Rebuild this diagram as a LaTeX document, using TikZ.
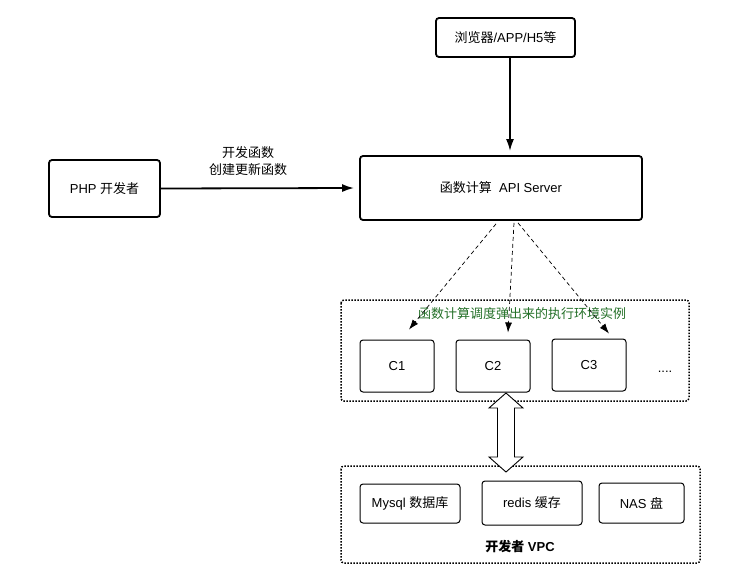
\documentclass[tikz,border=0pt]{standalone}
\usepackage{fontspec}
\setmainfont{Liberation Sans}
\newfontfamily\cjk{Noto Sans CJK SC}
\usetikzlibrary{arrows.meta,calc}
\definecolor{lblgreen}{RGB}{36,112,40}
\tikzset{
  box/.style={draw=black, rounded corners=3pt, line width=1pt, fill=white, font=\fontsize{13}{15.5}\selectfont, inner sep=0pt},
  bigbox/.style={box, line width=1.8pt},
  container/.style={draw=black, rounded corners=3pt, line width=1.5pt, dash pattern=on 1.5pt off 1.5pt},
  conn/.style={line width=1.8pt, -{Latex[length=12pt,width=8pt]}},
  dconn/.style={line width=0.7pt, dash pattern=on 4pt off 3pt, -{Latex[length=10pt,width=7pt]}},
  txt/.style={font=\fontsize{13}{15.5}\selectfont, inner sep=0pt}
}
\begin{document}
\begin{tikzpicture}[x=1pt,y=-1pt]
\useasboundingbox (0,0) rectangle (753,582);
% containers
\draw[container] (341,300) rectangle (689,401);
\draw[container] (341,466) rectangle (700,563);
% main boxes
\node[bigbox, minimum width=139pt, minimum height=39pt] (browser) at (505.5,37.5) {{\cjk 浏览器}/APP/H5{\cjk 等}};
\node[bigbox, minimum width=282pt, minimum height=64pt] (api) at (501,188) {{\cjk 函数计算}\ \ API Server};
\node[bigbox, minimum width=111pt, minimum height=57pt] (php) at (104.5,188.5) {PHP {\cjk 开发者}};
% C boxes
\node[box, minimum width=74pt, minimum height=52pt] (c1) at (397,366) {C1};
\node[box, minimum width=74pt, minimum height=52pt] (c2) at (493,366) {C2};
\node[box, minimum width=74pt, minimum height=52pt] (c3) at (589,365) {C3};
\node[txt] (dots) at (665,372) {....};
\node[txt, text=lblgreen] (envlbl) at (522,314) {\cjk 函数计算调度弹出来的执行环境实例};
% VPC boxes
\node[box, minimum width=100pt, minimum height=39pt] (mysql) at (410,503.5) {Mysql {\cjk 数据库}};
\node[box, minimum width=100pt, minimum height=44pt] (redis) at (532,503) {redis {\cjk 缓存}};
\node[box, minimum width=85pt, minimum height=40pt] (nas) at (641.5,503) {NAS {\cjk 盘}};
\node[txt, font=\fontsize{13}{15.5}\selectfont\bfseries] (vpc) at (520,547) {{\cjk\bfseries 开发者} VPC};
% arrows
\draw[conn] (php.east) -- ($(api.west)+(-5,0)$);
\node[txt, align=center] (devlbl) at (248,161) {{\cjk 开发函数}\\[1pt]{\cjk 创建更新函数}};
\draw[conn] ($(browser.south)+(4.5,0)$) -- ($(api.north)+(9,-4)$);
% dashed arrows
\coordinate (d1s) at ($(api.south)+(-5,3)$);
\coordinate (d2s) at ($(api.south)+(13,2)$);
\coordinate (d3s) at ($(api.south)+(17,2)$);
\coordinate (d1e) at ($(c1.north)+(12,-10)$);
\coordinate (d2e) at ($(c2.north)+(15,-7)$);
\coordinate (d3e) at ($(c3.north)+(20,-5)$);
\draw[dconn] (d1s) -- (d1e);
\draw[dconn] (d2s) -- (d2e);
\draw[dconn] (d3s) -- (d3e);
% hollow double arrow between C2 and redis
\draw[line width=0.9pt, fill=white, line join=miter]
  (506,393) -- (523,408) -- (514.5,408) -- (514.5,457) -- (523,457) -- (506,472)
  -- (489,457) -- (497.5,457) -- (497.5,408) -- (489,408) -- cycle;
\end{tikzpicture}
\end{document}
